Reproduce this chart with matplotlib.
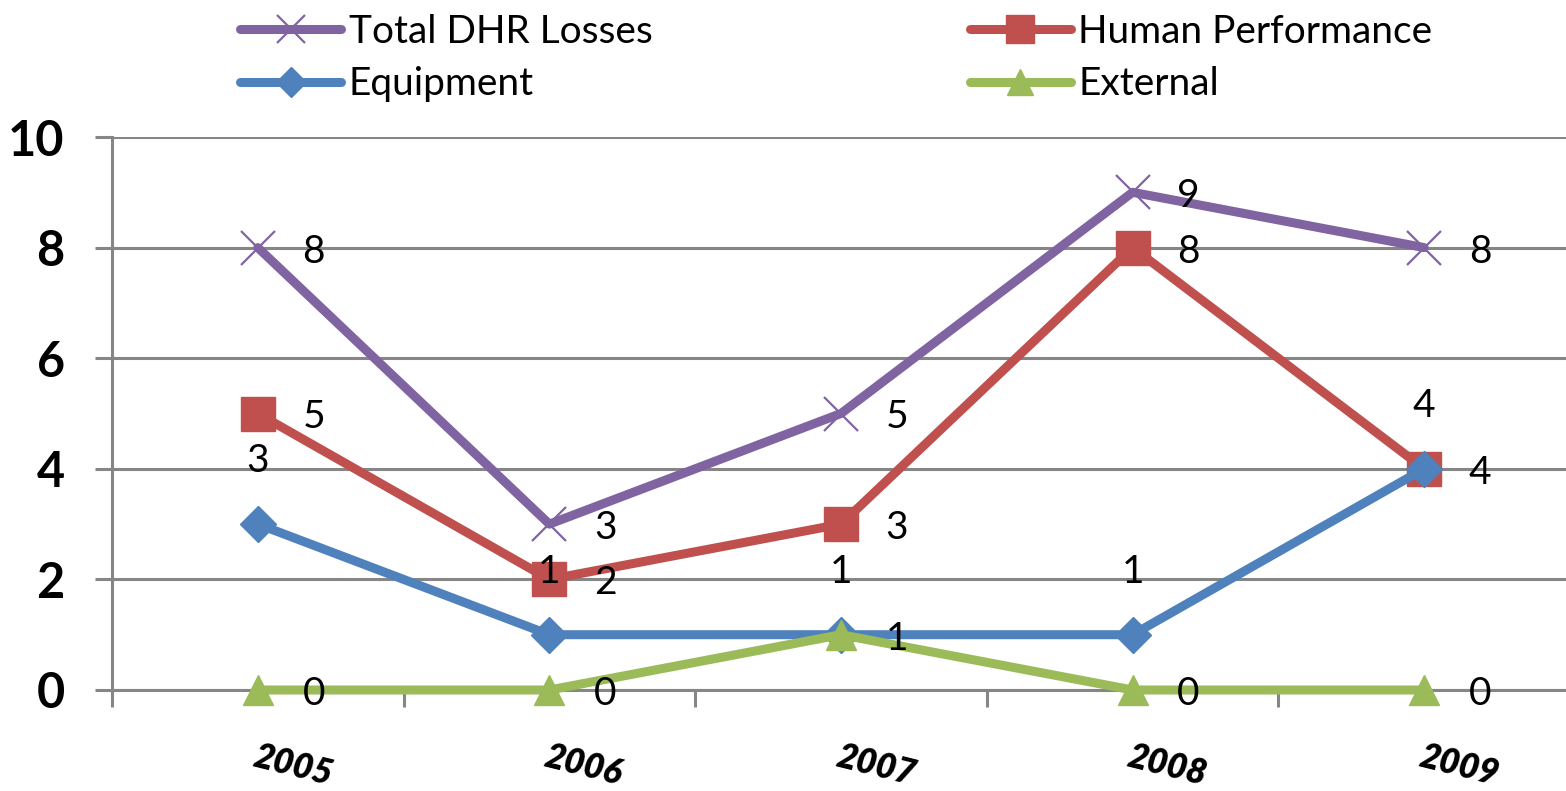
import matplotlib
matplotlib.use("Agg")
import matplotlib.pyplot as plt
import numpy as np

plt.rcParams['font.family'] = ['Lato', 'DejaVu Sans']

years = ["2005", "2006", "2007", "2008", "2009"]
total_dhr = [8, 3, 5, 9, 8]
human_perf = [5, 2, 3, 8, 4]
equipment = [3, 1, 1, 1, 4]
external = [0, 0, 1, 0, 0]
y_ticks = [0, 2, 4, 6, 8, 10]

C_PURPLE = "#8064A2"
C_RED = "#C0504D"
C_BLUE = "#4F81BD"
C_GREEN = "#9BBB59"
C_GRID = "#868686"

W, H = 1566, 791
fig = plt.figure(figsize=(W / 100, H / 100), dpi=100)
left = 112 / W
bottom = (H - 690) / H
top = (H - 137) / H
ax = fig.add_axes([left, bottom, (1570 - 112) / W, top - bottom])

x = np.arange(len(years))
lw = 6.5

l_total, = ax.plot(x, total_dhr, color=C_PURPLE, lw=lw, marker='x', ms=24,
                   mew=1.6, mec=C_PURPLE, label="Total DHR Losses", zorder=3,
                   solid_capstyle='round', clip_on=False)
l_human, = ax.plot(x, human_perf, color=C_RED, lw=lw, marker='s', ms=24,
                   mew=1, mec=C_RED, mfc=C_RED, label="Human Performance", zorder=4,
                   solid_capstyle='round', clip_on=False)
l_equip, = ax.plot(x, equipment, color=C_BLUE, lw=lw, marker='D', ms=18,
                   mew=1, mec=C_BLUE, mfc=C_BLUE, label="Equipment", zorder=5,
                   solid_capstyle='round', clip_on=False)
l_ext, = ax.plot(x, external, color=C_GREEN, lw=lw, marker='^', ms=22,
                 mew=1, mec=C_GREEN, mfc=C_GREEN, label="External", zorder=6,
                 solid_capstyle='round', clip_on=False)

lab_fs = 28
for xi, v in zip(x, total_dhr):
    ax.annotate(str(v), (xi, v), xytext=(56, -4), textcoords='offset pixels',
                ha='center', va='center', fontsize=lab_fs, zorder=10)
for xi, v in zip(x, human_perf):
    ax.annotate(str(v), (xi, v), xytext=(56, -4), textcoords='offset pixels',
                ha='center', va='center', fontsize=lab_fs, zorder=10)
for xi, v in zip(x, equipment):
    ax.annotate(str(v), (xi, v), xytext=(0, 63), textcoords='offset pixels',
                ha='center', va='center', fontsize=lab_fs, zorder=10)
for xi, v in zip(x, external):
    ax.annotate(str(v), (xi, v), xytext=(56, -4), textcoords='offset pixels',
                ha='center', va='center', fontsize=lab_fs, zorder=10)

ax.set_xlim(-0.5, len(years) - 0.5)
ax.set_ylim(0, 10)
ax.set_yticks(y_ticks)
ax.set_yticklabels([str(t) for t in y_ticks], fontsize=35, fontweight='bold')
ax.yaxis.grid(True, color=C_GRID, lw=2.2)
ax.set_axisbelow(True)

ax.set_xticks(np.arange(len(years) + 1) - 0.5)
ax.set_xticklabels([""] * (len(years) + 1))
ax.set_xticks(x, labels=years, minor=True)
ax.tick_params(axis='x', which='major', direction='out', length=12, width=2.2,
               color=C_GRID)
ax.tick_params(axis='x', which='minor', length=0, pad=36)
for t in ax.get_xticklabels(minor=True):
    t.set_fontsize(25)
    t.set_fontweight('heavy')
    t.set_fontstyle('italic')
    t.set_rotation(-14)
    t.set_ha('left')
    t.set_va('top')
    t.set_rotation_mode('anchor')
ax.tick_params(axis='y', direction='out', length=12, width=2.2, color=C_GRID, pad=22)

for s in ['top', 'right']:
    ax.spines[s].set_visible(False)
for s in ['left', 'bottom']:
    ax.spines[s].set_color(C_GRID)
    ax.spines[s].set_linewidth(2.2)

leg = fig.legend(handles=[l_total, l_equip, l_human, l_ext], ncol=2,
                 loc='upper left', bbox_to_anchor=(240 / W, 1 - 14 / H),
                 frameon=False, fontsize=28, handlelength=2.6,
                 handletextpad=0.2, columnspacing=8.15, labelspacing=0.42,
                 borderpad=0, borderaxespad=0, markerscale=0.85)

fig.savefig("out.png", dpi=100)
